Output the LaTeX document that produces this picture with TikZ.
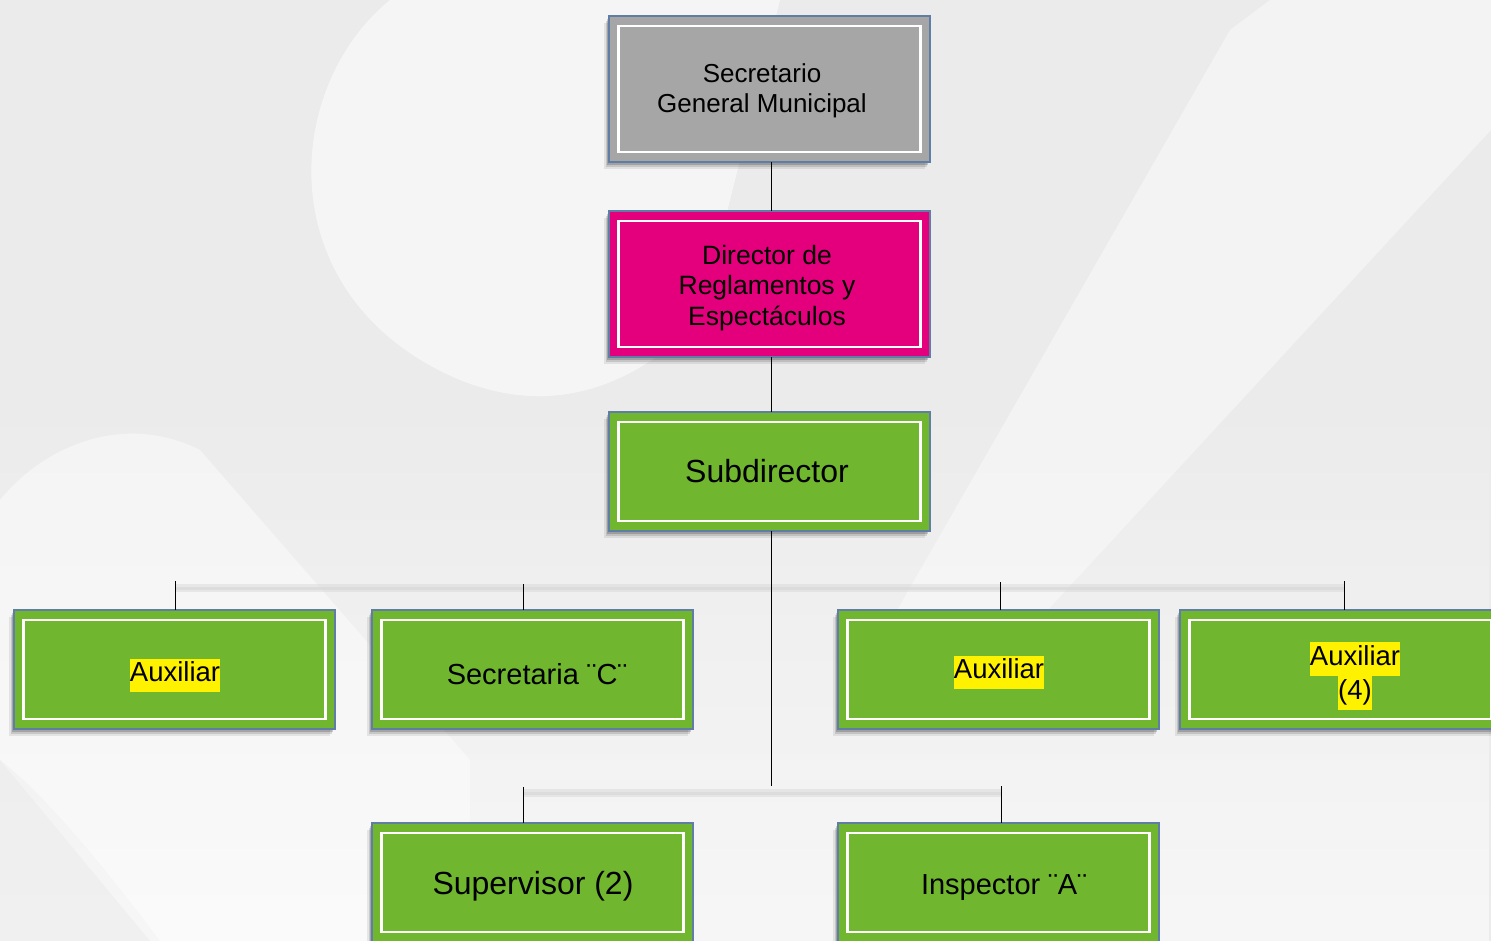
\documentclass[tikz,border=0pt]{standalone}
\usepackage{fontspec}
\setmainfont{Liberation Sans}
\usetikzlibrary{shadows,fadings}
\definecolor{bgbase}{RGB}{235,235,235}
\definecolor{bglight}{RGB}{247,247,247}
\definecolor{boxgray}{RGB}{166,166,166}
\definecolor{boxpink}{RGB}{228,0,124}
\definecolor{boxgreen}{RGB}{112,182,47}
\definecolor{boxedge}{RGB}{95,125,165}
\definecolor{faint}{RGB}{214,214,214}
\newcommand{\hlt}[1]{{\setlength{\fboxsep}{0pt}\colorbox{yellow}{\strut #1}}}
\tikzset{
  orgbox/.style={draw=boxedge, line width=1.2pt, anchor=north west, minimum width=321pt,
    inner sep=0pt, outer sep=0pt,
    drop shadow={shadow xshift=-5pt, shadow yshift=-7pt, opacity=.08, fill=black},
    drop shadow={shadow xshift=-3pt, shadow yshift=-5pt, opacity=.12, fill=black},
    drop shadow={shadow xshift=-2pt, shadow yshift=-3pt, opacity=.18, fill=black}},
  tallbox/.style={orgbox, minimum height=146pt},
  shortbox/.style={orgbox, minimum height=119pt},
  label/.style={align=center, text=black, inner sep=0pt},
  conn/.style={draw=black, line width=1pt},
  faintline/.style={draw=faint, line width=8pt, opacity=.45},
  faintcore/.style={draw=faint, line width=3pt, opacity=.6},
  inner/.style={draw=white, line width=2.6pt}
}
\newcommand{\innerframe}[1]{\draw[inner] ([shift={(9.5pt,-10pt)}]#1.north west) rectangle ([shift={(-9.5pt,10pt)}]#1.south east);}
\begin{document}
\begin{tikzpicture}[x=1pt,y=-1pt]
\clip (0,0) rectangle (1491,941);
\useasboundingbox (0,0) rectangle (1491,941);
% background
\fill[bgbase] (0,0) rectangle (1491,941);
\fill[bglight, path fading=north] (0,380) rectangle (1491,941);
\fill[white, opacity=.55] (390,0) .. controls (280,90) and (270,300) .. (460,380) .. controls (560,420) and (640,380) .. (700,320) -- (780,0) -- cycle;
\fill[white, opacity=.4] (1270,0) -- (1491,0) -- (1491,130) -- (1020,640) -- (880,640) -- (1230,30) -- cycle;
\fill[white, opacity=.45] (0,500) .. controls (40,450) and (120,410) .. (200,450) -- (470,760) -- (470,941) -- (160,941) .. controls (100,860) and (40,790) .. (0,760) -- cycle;
\fill[bgbase, opacity=.5] (0,760) -- (150,941) -- (0,941) -- cycle;

% boxes
\node[tallbox, fill=boxgray] (sec) at (609,16) {};
\node[tallbox, fill=boxpink] (dir) at (609,211) {};
\node[shortbox, fill=boxgreen] (sub) at (609,412) {};
\node[shortbox, fill=boxgreen] (aux1) at (14,610) {};
\node[shortbox, fill=boxgreen] (secc) at (372,610) {};
\node[shortbox, fill=boxgreen] (aux2) at (838,610) {};
\node[shortbox, fill=boxgreen] (aux4) at (1180,610) {};
\node[shortbox, fill=boxgreen] (sup) at (372,823) {};
\node[shortbox, fill=boxgreen] (insp) at (838,823) {};
\innerframe{sec}
\innerframe{dir}
\innerframe{sub}
\innerframe{aux1}
\innerframe{secc}
\innerframe{aux2}
\innerframe{aux4}
\innerframe{sup}
\innerframe{insp}

% labels
\node[label, font=\fontsize{26}{30}\selectfont] (tsec) at (762,91) {Secretario\\General Municipal};
\node[label, font=\fontsize{26.5}{30.5}\selectfont] (tdir) at (767,288) {Director de\\Reglamentos y\\Espectáculos};
\node[label, font=\fontsize{32}{38}\selectfont] (tsub) at (767,471) {Subdirector};
\node[label, font=\fontsize{27.5}{33}\selectfont] (taux1) at (175,675) {\hlt{Auxiliar}};
\node[label, font=\fontsize{29}{33}\selectfont] (tsecc) at (537,674) {Secretaria ¨C¨};
\node[label, font=\fontsize{27.5}{33}\selectfont] (taux2) at (999,672) {\hlt{Auxiliar}};
\node[label, font=\fontsize{27.5}{34}\selectfont] (taux4) at (1355,676) {\hlt{Auxiliar}\\[0pt]\hlt{(4)}};
\node[label, font=\fontsize{32}{38}\selectfont] (tsup) at (533,886) {Supervisor (2)};
\node[label, font=\fontsize{29}{33}\selectfont] (tinsp) at (1004,888) {Inspector ¨A¨};

% connectors
\coordinate (j2) at (771,786);
\coordinate (h1l) at (175,588);
\coordinate (h1r) at (1344,588);
\coordinate (h2l) at (523,793);
\coordinate (h2r) at (1001,793);
\coordinate (s1) at (175,581);
\coordinate (s2) at (523,584);
\coordinate (s3) at (1000,582);
\coordinate (s4) at (1344,581);
\coordinate (s5) at (523,787);
\coordinate (s6) at (1001,786);
\draw[faintline] (h1l) -- (h1r);
\draw[faintcore] (h1l) -- (h1r);
\draw[faintline] (h2l) -- (h2r);
\draw[faintcore] (h2l) -- (h2r);
\draw[conn] (sec.south -| 771,0) -- (dir.north -| 771,0);
\draw[conn] (dir.south -| 771,0) -- (sub.north -| 771,0);
\draw[conn] (sub.south -| 771,0) -- (j2);
\draw[conn] (s1) -- (aux1.north -| s1);
\draw[conn] (s2) -- (secc.north -| s2);
\draw[conn] (s3) -- (aux2.north -| s3);
\draw[conn] (s4) -- (aux4.north -| s4);
\draw[conn] (s5) -- (sup.north -| s5);
\draw[conn] (s6) -- (insp.north -| s6);
\end{tikzpicture}
\end{document}
